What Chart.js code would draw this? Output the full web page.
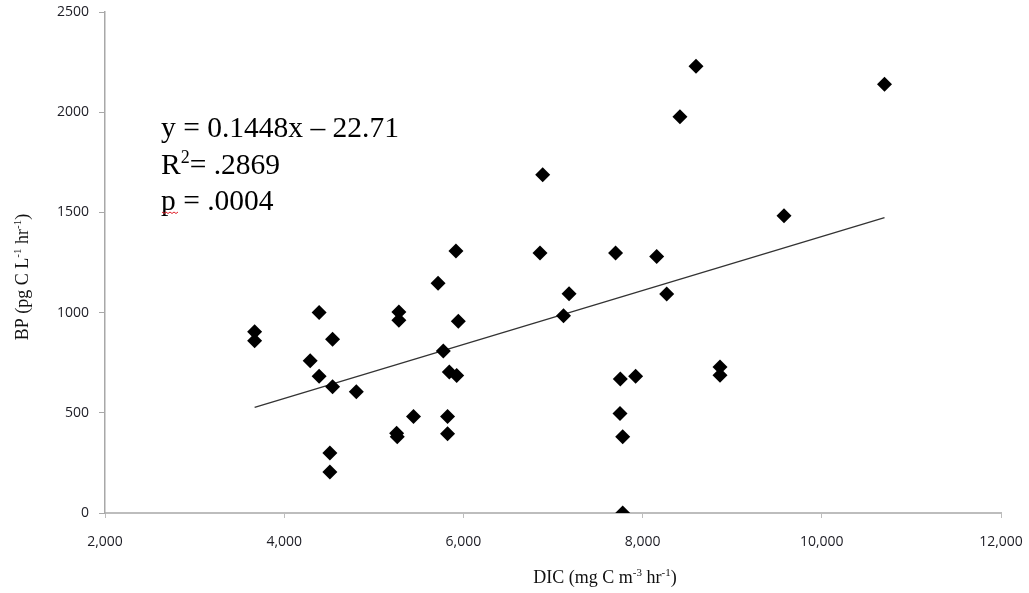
<!DOCTYPE html>
<html>
<head>
<meta charset="utf-8">
<script src="https://cdn.jsdelivr.net/npm/chart.js@4/dist/chart.umd.min.js"></script>
<style>
  body { margin: 0; background: #fff; }
  #wrap { width: 1029px; height: 593px; }
</style>
</head>
<body>
<div id="wrap"><canvas id="myChart" width="1029" height="593"></canvas></div>
<script>
// DIC (x) and BP (y)
const dic = [3670, 3670, 4390, 4540, 4290, 4390, 4540, 4805, 4510, 4510,
             5280, 5280, 5255, 5262, 5443, 5717, 5917, 5943, 5776, 5843,
             5925, 5823, 5823, 6885, 6855, 7179, 7117, 7698, 8157, 8269,
             7751, 7922, 7748, 7778, 7778, 8417, 8596, 8864, 8864, 9578, 10700];
const bp  = [905, 860, 1000, 867, 760, 683, 630, 605, 300, 205,
             1003, 962, 398, 381, 481, 1146, 1307, 957, 809, 703,
             686, 481, 395, 1688, 1298, 1094, 984, 1297, 1280, 1093,
             669, 683, 496, 380, 0, 1977, 2229, 729, 687, 1483, 2139];

const xTicks = [2000, 4000, 6000, 8000, 10000, 12000];
const yTicks = [0, 500, 1000, 1500, 2000, 2500];

const statLines = ['y = 0.1448x \u2013 22.71', '.2869', 'p = .0004'];

// least squares fit for the trend line
const fitLine = () => {
  let n = dic.length, sx = 0, sy = 0, sxx = 0, sxy = 0;
  for (let i = 0; i < n; i++) {
    sx += dic[i]; sy += bp[i];
    sxx += dic[i] * dic[i]; sxy += dic[i] * bp[i];
  }
  const slope = (n * sxy - sx * sy) / (n * sxx - sx * sx);
  const icpt = (sy - slope * sx) / n;
  const x0 = Math.min(...dic), x1 = Math.max(...dic);
  return [{x: x0, y: slope * x0 + icpt}, {x: x1, y: slope * x1 + icpt}];
}

// draw text runs with superscripts
const drawRuns = (ctx, runs, x, y, size, align) => {
  const supSize = Math.round(size * 0.62);
  let total = 0;
  runs.forEach(r => {
    ctx.font = (r[1] ? supSize : size) + 'px "Liberation Serif"';
    total += ctx.measureText(r[0]).width;
  });
  let cx = align === 'center' ? x - total / 2 : x;
  ctx.textAlign = 'left';
  ctx.textBaseline = 'alphabetic';
  runs.forEach(r => {
    ctx.font = (r[1] ? supSize : size) + 'px "Liberation Serif"';
    ctx.fillText(r[0], cx, r[1] ? y - size * 0.38 : y);
    cx += ctx.measureText(r[0]).width;
  });
}

const textPlugin = {
  id: 'textPlugin',
  afterDraw(chart) {
    const ctx = chart.ctx;
    ctx.save();
    ctx.fillStyle = '#111';

    // x axis title
    drawRuns(ctx, [['DIC (mg C m', false], ['-3', true], [' hr', false], ['-1', true], [')', false]],
      605, 583, 18, 'center');

    // y axis title
    ctx.save();
    ctx.translate(28, 277);
    ctx.rotate(-Math.PI / 2);
    drawRuns(ctx, [['BP (pg C L', false], ['-1', true], [' hr', false], ['-1', true], [')', false]],
      0, 0, 18, 'center');
    ctx.restore();

    // regression stats
    ctx.fillStyle = '#000';
    drawRuns(ctx, [[statLines[0], false]], 161, 137, 29.5, 'left');
    drawRuns(ctx, [['R', false], ['2', true], ['= ' + statLines[1], false]], 161, 174, 29.5, 'left');
    drawRuns(ctx, [[statLines[2], false]], 161, 210, 29.5, 'left');

    // spell-check squiggle under the p
    ctx.strokeStyle = '#e0202a';
    ctx.lineWidth = 1;
    ctx.beginPath();
    for (let i = 0; i <= 8; i++) {
      const px = 162 + i * 2;
      const py = 212 + (i % 2 === 0 ? 0 : 1.5);
      if (i === 0) ctx.moveTo(px, py); else ctx.lineTo(px, py);
    }
    ctx.stroke();
    ctx.restore();
  }
};

const generateChart = () => {
  var ctx = document.getElementById('myChart').getContext('2d');
  var points = dic.map((x, i) => ({x: x, y: bp[i]}));

  var myChart = new Chart(ctx, {
    type: 'scatter',
    data: {
      datasets: [{
        data: points,
        pointStyle: 'rectRot',
        pointRadius: 7.5,
        backgroundColor: '#000',
        borderColor: '#000',
        borderWidth: 0
      }, {
        type: 'line',
        data: fitLine(),
        borderColor: '#333',
        borderWidth: 1.3,
        pointRadius: 0,
        showLine: true,
        fill: false
      }]
    },
    options: {
      responsive: false,
      animation: false,
      layout: { padding: { top: 12, right: 28, left: 0, bottom: 0 } },
      plugins: { legend: { display: false }, tooltip: { enabled: false } },
      scales: {
        x: {
          type: 'linear',
          min: xTicks[0],
          max: xTicks[xTicks.length - 1],
          afterBuildTicks: (scale) => { scale.ticks = xTicks.map(v => ({value: v})); },
          afterFit: (scale) => {
            scale.height = 80;
            scale.paddingLeft = 0;
            scale.paddingRight = 0;
          },
          border: { color: '#bdbdbd', width: 2 },
          grid: { drawOnChartArea: false, color: '#bdbdbd', tickLength: 5 },
          ticks: {
            padding: 16,
            color: '#1c1c24',
            font: { family: 'Open Sans', size: 14 },
            maxRotation: 0,
            callback: (v) => v.toLocaleString('en-US')
          }
        },
        y: {
          type: 'linear',
          min: yTicks[0],
          max: yTicks[yTicks.length - 1],
          afterBuildTicks: (scale) => { scale.ticks = yTicks.map(v => ({value: v})); },
          afterFit: (scale) => {
            scale.width = 105;
            scale.paddingTop = 0;
            scale.paddingBottom = 0;
          },
          border: { color: '#a8a8a8', width: 1.5 },
          grid: { drawOnChartArea: false, color: '#a8a8a8', tickLength: 6 },
          ticks: {
            padding: 10,
            color: '#1c1c24',
            font: { family: 'Open Sans', size: 14 },
            callback: (v) => String(v)
          }
        }
      }
    },
    plugins: [textPlugin]
  });
  return myChart;
}

generateChart();
</script>
</body>
</html>
